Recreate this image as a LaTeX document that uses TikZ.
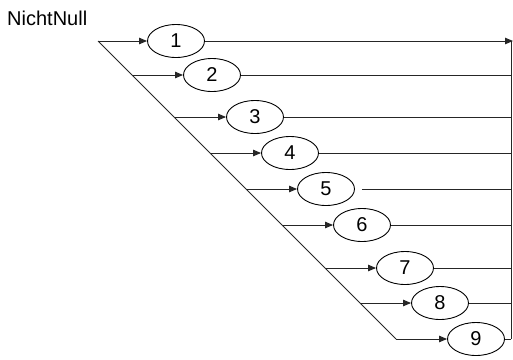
\documentclass[tikz,border=0pt]{standalone}
\usepackage{fontspec}
\setmainfont{Liberation Sans}
\usetikzlibrary{shapes.geometric,arrows.meta}
\begin{document}
\begin{tikzpicture}[x=1pt,y=-1pt,
  ell/.style={draw,ellipse,minimum width=57pt,minimum height=33pt,inner sep=0pt,font=\fontsize{20}{24}\selectfont,line width=0.9pt},
  ln/.style={line width=0.9pt,draw=black!85},
  arr/.style={ln,-{Triangle[length=8pt,width=6.5pt]}}]
\useasboundingbox (0,0) rectangle (513,359);
\node[anchor=base west,font=\fontsize{20}{24}\selectfont,inner sep=0pt] (lbl) at (7,25) {NichtNull};
\foreach \i/\y/\cx in {1/41/176,2/75/212,3/117/255,4/153/290,5/189/326,6/225/362,7/268/405,8/303/440,9/339/476}{
  \pgfmathsetmacro{\bx}{98+\y-41}
  \coordinate (b\i) at (\bx,\y);
  \coordinate (r\i) at (511,\y);
  \node[ell] (e\i) at (\cx,\y) {\i};
}
\draw[ln] (b1) -- (b9);
\foreach \i in {1,...,9}{
  \draw[arr] (b\i) -- (e\i.west);
}
\foreach \i in {2,3,4,6,7,8,9}{
  \draw[ln] (e\i.east) -- (r\i);
}
\draw[ln] (e5.east) ++(7,0) -- (r5);
\draw[ln] (r9) -- (r1);
\coordinate (t1) at (513,41);
\draw[arr] (e1.east) -- (t1);
\end{tikzpicture}
\end{document}
